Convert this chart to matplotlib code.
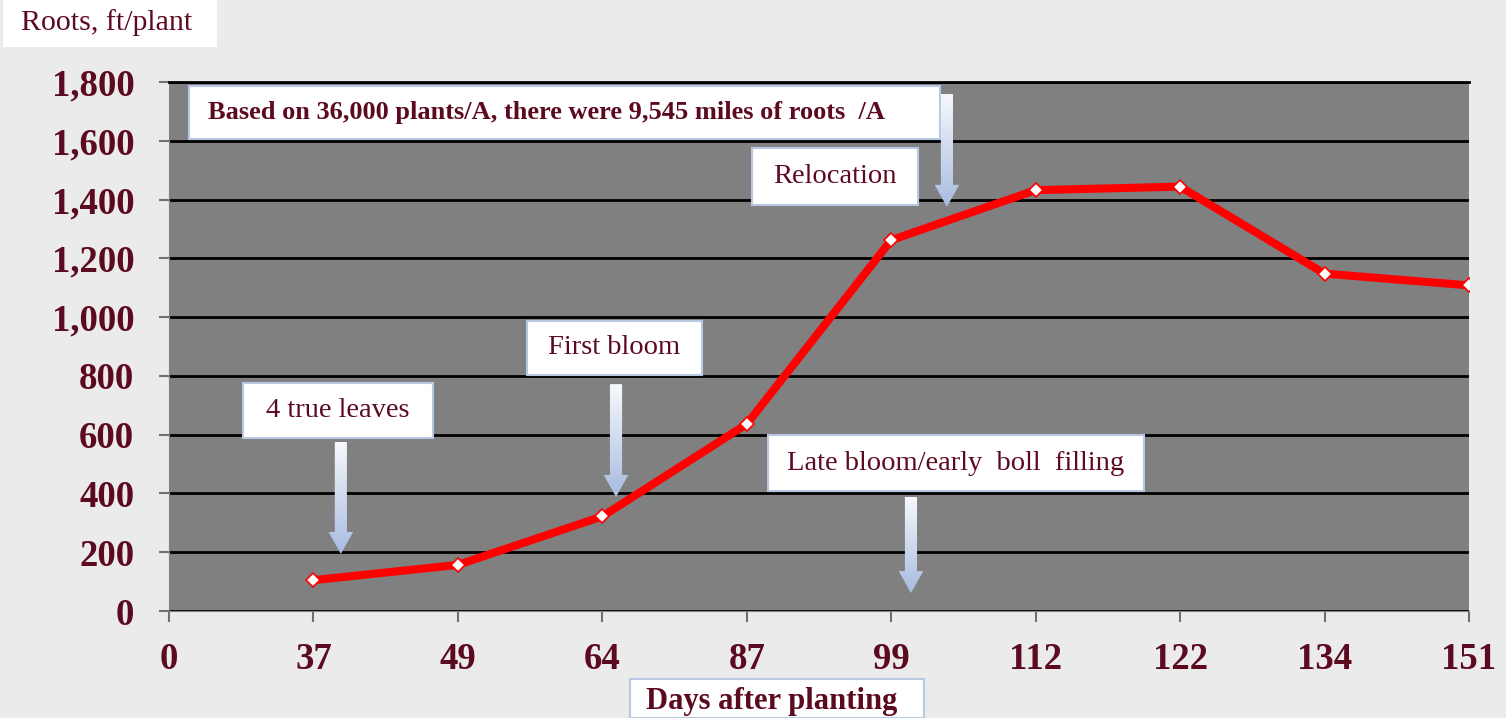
# Root growth of a cotton plant over the season
import matplotlib.pyplot as plt
import numpy as np
from matplotlib.patches import Rectangle, Polygon

# Data
tick_labels = ["0", "37", "49", "64", "87", "99", "112", "122", "134", "151"]
days = ["37", "49", "64", "87", "99", "112", "122", "134", "151"]
roots = [105, 157, 322, 636, 1262, 1432, 1444, 1148, 1108]

maroon = "#5c0a1f"
serif = ["Liberation Serif", "DejaVu Serif"]
plt.rcParams["font.family"] = serif

fig = plt.figure(figsize=(15.06, 7.18), dpi=100)
fig.patch.set_facecolor("#ebebeb")
ax = fig.add_axes([0.1122, 0.1490, 0.8632, 0.7368])
ax.set_facecolor("#808080")

# Categorical x axis: each day sits on its own slot
xpos = [tick_labels.index(d) for d in days]
ax.plot(xpos, roots, color="red", lw=5.8, zorder=3, solid_joinstyle="round")
ax.plot(xpos, roots, ls="none", marker="D", ms=7, mfc="white", mec="red",
        mew=1.2, zorder=4)

ax.set_xlim(0, len(tick_labels) - 1)
ax.set_ylim(0, 1800)
ax.set_xticks(range(len(tick_labels)))
ax.set_xticklabels(tick_labels)
ax.set_yticks(range(0, 1801, 200))
ax.set_yticklabels([f"{v:,}" for v in range(0, 1801, 200)])
for lab in ax.get_xticklabels() + ax.get_yticklabels():
    lab.set_fontweight("bold")
    lab.set_fontsize(26.5)
    lab.set_color(maroon)
ax.tick_params(axis="y", length=7, width=1.5, color="#707070", pad=18)
ax.tick_params(axis="x", length=8, width=1.5, color="#707070", pad=14)

# Horizontal grid lines in black
ax.yaxis.grid(True, color="black", lw=2)
ax.set_axisbelow(True)
for side in ["left", "bottom"]:
    ax.spines[side].set_color("#808080")
ax.spines["right"].set_visible(False)
ax.spines["top"].set_color("black")
ax.spines["top"].set_linewidth(2)


def note(x0, x1, y0, y1, text, size=20.5, weight="normal", tx=None):
    # white label box with a pale blue edge
    ax.add_patch(Rectangle((x0, y0), x1 - x0, y1 - y0, facecolor="white",
                           edgecolor="#b8c8e2", lw=1.5, zorder=5))
    if tx is None:
        ax.text((x0 + x1) / 2, (y0 + y1) / 2, text, ha="center", va="center",
                fontsize=size, fontweight=weight, color=maroon, zorder=6)
    else:
        ax.text(tx, (y0 + y1) / 2, text, ha="left", va="center",
                fontsize=size, fontweight=weight, color=maroon, zorder=6)


def down_arrow(x, ytop, ybot):
    # down arrow filled with a white-to-blue gradient
    sw, hw, hl = 0.042, 0.085, 75
    pts = [(x - sw, ytop), (x + sw, ytop), (x + sw, ybot + hl), (x + hw, ybot + hl),
           (x, ybot), (x - hw, ybot + hl), (x - sw, ybot + hl)]
    poly = Polygon(pts, closed=True, facecolor="none", edgecolor="none", zorder=5)
    ax.add_patch(poly)
    grad = np.linspace(0, 1, 100).reshape(-1, 1)
    cmap = plt.matplotlib.colors.LinearSegmentedColormap.from_list(
        "arr", ["#f6f8fc", "#a8bce0"])
    im = ax.imshow(grad, extent=(x - hw, x + hw, ybot, ytop), origin="upper",
                   cmap=cmap, aspect="auto", zorder=5)
    im.set_clip_path(poly)


note(0.138, 5.338, 1606, 1786,
     "Based on 36,000 plants/A, there were 9,545 miles of roots  /A",
     size=19, weight="bold", tx=0.27)
note(4.036, 5.186, 1381, 1575, "Relocation")
note(2.478, 3.690, 803, 987, "First bloom")
note(0.512, 1.828, 589, 776, "4 true leaves")
note(4.147, 6.750, 408, 599, "Late bloom/early  boll  filling")

down_arrow(1.19, 575, 194)
down_arrow(3.095, 772, 388)
down_arrow(5.386, 1759, 1375)
down_arrow(5.137, 388, 61)

ax.set_xlim(0, len(tick_labels) - 1)
ax.set_ylim(0, 1800)

# Axis titles in white boxes, as on the slide
fig.patches.append(Rectangle((0.002, 0.9345), 0.142, 0.07, transform=fig.transFigure,
                             facecolor="white", edgecolor="none"))
fig.text(0.071, 0.968, "Roots, ft/plant", ha="center", va="center",
         fontsize=21.5, color=maroon)
fig.patches.append(Rectangle((0.418, 0.0), 0.1955, 0.0543, transform=fig.transFigure,
                             facecolor="white", edgecolor="#b8c8e2", lw=1.5))
fig.text(0.5126, 0.023, "Days after planting", ha="center", va="center",
         fontsize=22, fontweight="bold", color=maroon)

fig.savefig("out.png", dpi=100, facecolor=fig.get_facecolor())
